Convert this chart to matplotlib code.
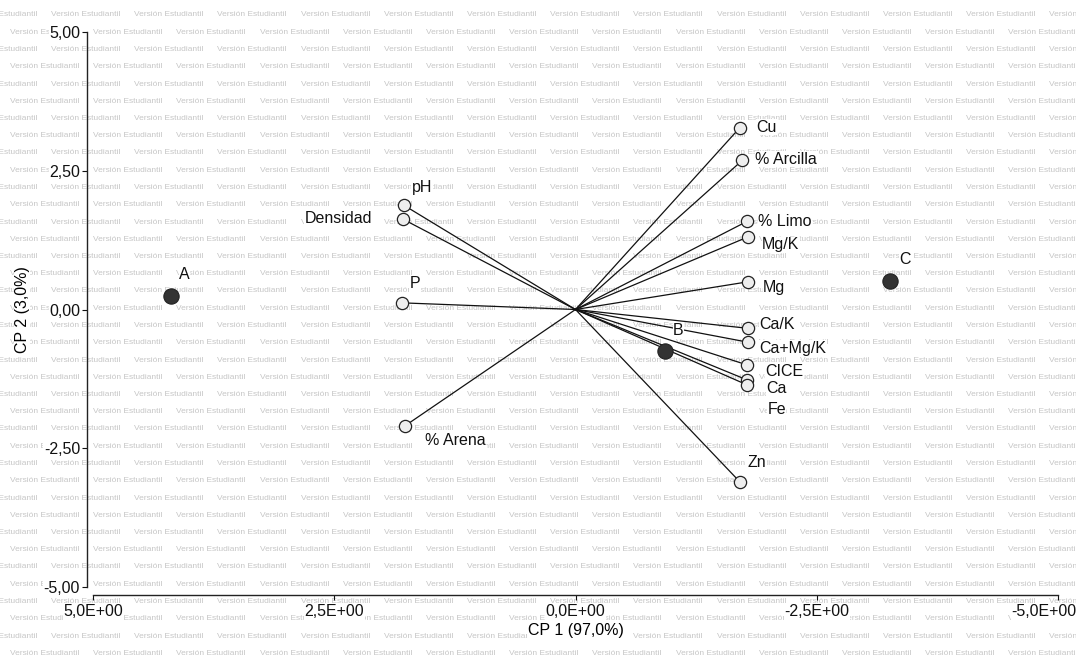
import matplotlib
matplotlib.use("Agg")
import matplotlib.pyplot as plt
from matplotlib.transforms import ScaledTranslation

# ---- data ----
var_names = ["Cu", "% Arcilla", "% Limo", "Mg/K", "Mg", "Ca/K", "Ca+Mg/K", "CICE",
             "Ca", "Fe", "Zn", "pH", "Densidad", "P", "% Arena"]
var_x = [-1.70, -1.73, -1.78, -1.79, -1.79, -1.79, -1.79, -1.78,
         -1.78, -1.78, -1.70, 1.78, 1.79, 1.80, 1.77]
var_y = [3.27, 2.69, 1.59, 1.31, 0.50, -0.34, -0.59, -1.00,
         -1.27, -1.36, -3.10, 1.88, 1.63, 0.12, -2.10]

obs_names = ["A", "B", "C"]
obs_x = [4.19, -0.93, -3.26]
obs_y = [0.24, -0.75, 0.51]

x_ticks = [5.0, 2.5, 0.0, -2.5, -5.0]
x_tick_labels = ["5,0E+00", "2,5E+00", "0,0E+00", "-2,5E+00", "-5,0E+00"]
y_ticks = [5.0, 2.5, 0.0, -2.5, -5.0]
y_tick_labels = ["5,00", "2,50", "0,00", "-2,50", "-5,00"]

# label offsets (pixels) relative to the point
var_off = [(17, 1), (13, 1), (11, 0), (14, -8), (15, -6), (11, 4), (11, -6), (18, -7),
           (19, -9), (20, -25), (8, 19), (8, 18), (-31, 1), (8, 19), (20, -14)]
var_ha = ["left"] * 12 + ["right", "left", "left"]
obs_off = [(8, 22), (8, 21), (9, 22)]

W, H = 1076, 656
fig = plt.figure(figsize=(W / 100, H / 100), dpi=100)
fig.patch.set_facecolor("white")

# watermark
wm_font = ["Liberation Sans", "DejaVu Sans"]
row_step = 17.25
period = 83.2
r = 0
yy = 15.0
while yy < H + 10:
    x0 = 51.0 if r % 2 == 0 else 10.0
    xx = x0 - period
    while xx < W + 10:
        fig.text(xx / W, 1 - yy / H, "Versión Estudiantil", fontsize=6.0,
                 color="#c6c6c6", ha="left", va="center", family=wm_font, zorder=0)
        xx += period
    yy += row_step
    r += 1

ax = fig.add_axes([93 / W, 1 - 587 / H, (1058 - 93) / W, (587 - 32) / H])
ax.patch.set_visible(False)
ax.set_zorder(2)
ax.set_xlim(5, -5)
ax.set_ylim(-5, 5)

font = ["Liberation Sans", "DejaVu Sans"]
box = dict(facecolor="white", edgecolor="none", pad=0.3)
fs = 11.5

for sp in ["top", "right"]:
    ax.spines[sp].set_visible(False)
ax.spines["left"].set_position(("outward", 4.3))
ax.spines["bottom"].set_position(("outward", 5.8))
for sp in ["left", "bottom"]:
    ax.spines[sp].set_linewidth(1.0)
    ax.spines[sp].set_color("#222222")

ax.set_xticks(x_ticks)
ax.set_xticklabels(x_tick_labels)
ax.set_yticks(y_ticks)
ax.set_yticklabels(y_tick_labels)
ax.tick_params(axis="both", direction="out", length=3.5, width=0.8, labelsize=fs, colors="#111111")
ax.tick_params(axis="y", pad=1.5)
ax.tick_params(axis="x", pad=3)
for lab in ax.get_xticklabels() + ax.get_yticklabels():
    lab.set_family(font)
    lab.set_bbox(box)
last = ax.get_xticklabels()[-1]
last.set_transform(last.get_transform() + ScaledTranslation(-0.14, 0, fig.dpi_scale_trans))

ax.set_xlabel("CP 1 (97,0%)", fontsize=fs, family=font, labelpad=3, bbox=box)
ax.set_ylabel("CP 2 (3,0%)", fontsize=fs, family=font, labelpad=10, bbox=box)

# vectors
for x, y in zip(var_x, var_y):
    ax.plot([0, x], [0, y], color="#111111", lw=0.9, zorder=3)
ax.plot(var_x, var_y, "o", ms=8.8, mfc="#eeeeee", mec="#222222", mew=0.9, ls="none", zorder=4)
for name, x, y, (dx, dy), ha in zip(var_names, var_x, var_y, var_off, var_ha):
    ax.annotate(name, (x, y), xytext=(dx * 0.72, dy * 0.72), textcoords="offset points",
                ha=ha, va="center", fontsize=fs, family=font, color="#111111",
                bbox=box, zorder=5)

# observations
ax.plot(obs_x, obs_y, "o", ms=11, mfc="#333333", mec="#222222", mew=0.8, ls="none", zorder=4)
for name, x, y, (dx, dy) in zip(obs_names, obs_x, obs_y, obs_off):
    ax.annotate(name, (x, y), xytext=(dx * 0.72, dy * 0.72), textcoords="offset points",
                ha="left", va="center", fontsize=fs, family=font, color="#111111",
                bbox=box, zorder=5)

fig.savefig("out.png", dpi=100, facecolor="white")
